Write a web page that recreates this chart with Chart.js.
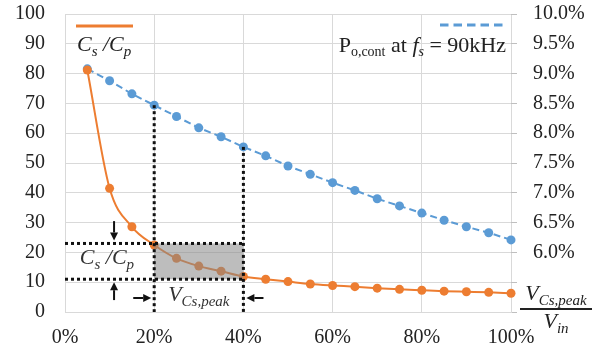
<!DOCTYPE html>
<html>
<head>
<meta charset="utf-8">
<script src="https://cdn.jsdelivr.net/npm/chart.js@4"></script>
<style>
html, body { margin: 0; padding: 0; background: #fff; }
#wrap { width: 605px; height: 356px; }
</style>
</head>
<body>
<div id="wrap"><canvas id="grafico" width="605" height="356"></canvas></div>
<script>
// V_Cs,peak / V_in (%)
const ratio = [5, 10, 15, 20, 25, 30, 35, 40, 45, 50, 55, 60, 65, 70, 75, 80, 85, 90, 95, 100];
// Cs/Cp (left axis)
const csCp = [81.2, 41.5, 28.6, 22.5, 18.0, 15.4, 13.7, 11.9, 11.0, 10.2, 9.4, 8.9, 8.5, 8.0, 7.6, 7.3, 7.0, 6.8, 6.6, 6.3];
// Po,cont at fs = 90kHz (right axis, %)
const pCont = [9.08, 8.88, 8.66, 8.47, 8.28, 8.09, 7.94, 7.77, 7.62, 7.45, 7.31, 7.17, 7.04, 6.90, 6.78, 6.66, 6.54, 6.43, 6.33, 6.21];
// marked range
const markX = [20, 40];
const bandY = [11, 23];

const ORANGE = '#ED7D31';
const BLUE = '#5B9BD5';
const TXT = '#222';
const GRID = '#d9d9d9';
const SERIF = "'Liberation Serif', 'DejaVu Serif', serif";

// texto com subscritos
function rich(ctx, parts, x, y, align) {
    let w = 0;
    parts.forEach(p => { ctx.font = p.font; w += ctx.measureText(p.t).width; });
    let cx = align === 'right' ? x - w : align === 'center' ? x - w / 2 : x;
    ctx.textAlign = 'left';
    ctx.textBaseline = 'alphabetic';
    parts.forEach(p => {
        ctx.font = p.font;
        ctx.fillText(p.t, cx, y + (p.dy || 0));
        cx += ctx.measureText(p.t).width;
    });
}

function arrow(ctx, x1, y1, x2, y2) {
    const a = Math.atan2(y2 - y1, x2 - x1);
    const h = 8, hw = 4;
    ctx.beginPath();
    ctx.moveTo(x1, y1);
    ctx.lineTo(x2 - Math.cos(a) * h, y2 - Math.sin(a) * h);
    ctx.stroke();
    ctx.beginPath();
    ctx.moveTo(x2, y2);
    ctx.lineTo(x2 - Math.cos(a) * h - Math.sin(a) * hw, y2 - Math.sin(a) * h + Math.cos(a) * hw);
    ctx.lineTo(x2 - Math.cos(a) * h + Math.sin(a) * hw, y2 - Math.sin(a) * h - Math.cos(a) * hw);
    ctx.closePath();
    ctx.fill();
}

const it = (s) => 'italic ' + s + 'px ' + SERIF;
const rm = (s) => s + 'px ' + SERIF;

const annot = {
    id: 'annot',
    afterDatasetsDraw(chart) {
        const { ctx, scales: { x, y, y1 } } = chart;
        const px = v => x.getPixelForValue(v);
        const py = v => y.getPixelForValue(v);
        ctx.save();

        // area cinza
        ctx.fillStyle = 'rgba(135,135,135,0.55)';
        ctx.fillRect(px(markX[0]), py(bandY[1]), px(markX[1]) - px(markX[0]), py(bandY[0]) - py(bandY[1]));

        // linhas pontilhadas
        ctx.strokeStyle = '#111';
        ctx.lineWidth = 3;
        ctx.setLineDash([3, 3]);
        markX.forEach(v => {
            const top = y1.getPixelForValue(pCont[ratio.indexOf(v)]);
            ctx.beginPath();
            ctx.moveTo(px(v), top);
            ctx.lineTo(px(v), py(0));
            ctx.stroke();
        });
        bandY.forEach(v => {
            ctx.beginPath();
            ctx.moveTo(px(0), py(v));
            ctx.lineTo(px(markX[1]), py(v));
            ctx.stroke();
        });
        ctx.setLineDash([]);

        // setas
        ctx.lineWidth = 2;
        ctx.fillStyle = '#111';
        arrow(ctx, px(11), py(30.5), px(11), py(bandY[1]) - 3);
        arrow(ctx, px(11), py(4), px(11), py(bandY[0]) + 3);
        arrow(ctx, px(15.3), py(4.7), px(markX[0]) - 3, py(4.7));
        arrow(ctx, px(44.5), py(4.7), px(markX[1]) + 3, py(4.7));

        // textos
        ctx.fillStyle = '#333';
        rich(ctx, [
            { t: 'C', font: it(22) }, { t: 's', font: it(15), dy: 5 },
            { t: ' /C', font: it(22) }, { t: 'p', font: it(15), dy: 5 }
        ], px(9.4), py((bandY[0] + bandY[1]) / 2) + 3, 'center');
        rich(ctx, [
            { t: 'V', font: it(22) }, { t: 'Cs,peak', font: it(15), dy: 5 }
        ], px((markX[0] + markX[1]) / 2), py(4.7) + 3, 'center');

        // legenda
        ctx.fillStyle = TXT;
        ctx.strokeStyle = ORANGE;
        ctx.lineWidth = 3;
        ctx.beginPath();
        ctx.moveTo(76, 26);
        ctx.lineTo(133, 26);
        ctx.stroke();
        rich(ctx, [
            { t: 'C', font: it(22) }, { t: 's', font: it(15), dy: 5 },
            { t: ' /C', font: it(22) }, { t: 'p', font: it(15), dy: 5 }
        ], 77, 51, 'left');

        ctx.strokeStyle = BLUE;
        ctx.setLineDash([8.5, 5]);
        ctx.beginPath();
        ctx.moveTo(440, 25);
        ctx.lineTo(503, 25);
        ctx.stroke();
        ctx.setLineDash([]);
        rich(ctx, [
            { t: 'P', font: rm(22) }, { t: 'o,cont', font: rm(14), dy: 4 },
            { t: ' at ', font: rm(22) }, { t: 'f', font: it(22) }, { t: 's', font: it(14), dy: 4 },
            { t: ' = 90kHz', font: rm(22) }
        ], 506, 52, 'right');

        // fração no eixo
        rich(ctx, [
            { t: 'V', font: it(22) }, { t: 'Cs,peak', font: it(15), dy: 5 }
        ], 556, 300, 'center');
        ctx.strokeStyle = '#222';
        ctx.lineWidth = 2;
        ctx.beginPath();
        ctx.moveTo(520, 309);
        ctx.lineTo(592, 309);
        ctx.stroke();
        rich(ctx, [
            { t: 'V', font: it(22) }, { t: 'in', font: it(15), dy: 5 }
        ], 556, 328, 'center');

        ctx.restore();
    }
};

// o padding dos ticks não deve empurrar a área do gráfico
function fixV(w) {
    return function (s) { s.width = w; s.paddingTop = 14; s.paddingBottom = 0; };
}

const ctx = document.getElementById('grafico').getContext('2d');
new Chart(ctx, {
    type: 'line',
    data: {
        datasets: [
            {
                label: 'Cs/Cp',
                data: ratio.map((r, i) => ({ x: r, y: csCp[i] })),
                yAxisID: 'y',
                borderColor: ORANGE,
                backgroundColor: ORANGE,
                borderWidth: 2,
                pointRadius: 4.5,
                pointBorderWidth: 0,
                cubicInterpolationMode: 'monotone',
                clip: false
            },
            {
                label: 'Po,cont at fs = 90kHz',
                data: ratio.map((r, i) => ({ x: r, y: pCont[i] })),
                yAxisID: 'y1',
                borderColor: BLUE,
                backgroundColor: BLUE,
                borderWidth: 2,
                borderDash: [7, 4],
                pointRadius: 4.5,
                pointBorderWidth: 0,
                tension: 0,
                clip: false
            }
        ]
    },
    options: {
        responsive: false,
        animation: false,
        layout: { padding: 0 },
        plugins: { legend: { display: false }, tooltip: { enabled: false } },
        scales: {
            x: {
                type: 'linear',
                min: 0,
                max: 100,
                afterFit(s) { s.height = 44; s.paddingLeft = 0; s.paddingRight = 0; },
                grid: { color: GRID, drawTicks: false, lineWidth: 1 },
                border: { color: GRID },
                ticks: {
                    stepSize: 20,
                    padding: 14,
                    color: TXT,
                    font: { family: SERIF, size: 20 },
                    callback: v => v + '%'
                }
            },
            y: {
                position: 'left',
                min: 0,
                max: 100,
                afterFit: fixV(65),
                grid: { color: GRID, drawTicks: false },
                border: { color: GRID },
                ticks: {
                    stepSize: 10,
                    padding: 20,
                    color: TXT,
                    font: { family: SERIF, size: 20 }
                }
            },
            y1: {
                position: 'right',
                min: 5,
                max: 10,
                afterFit: fixV(94),
                grid: { drawOnChartArea: false, drawTicks: true, tickLength: 6, color: '#bfbfbf' },
                border: { display: false },
                ticks: {
                    stepSize: 0.5,
                    padding: 16,
                    color: TXT,
                    font: { family: SERIF, size: 20 },
                    callback: v => v <= 5.5 ? '' : v.toFixed(1) + '%'
                }
            }
        }
    },
    plugins: [annot]
});
</script>
</body>
</html>
